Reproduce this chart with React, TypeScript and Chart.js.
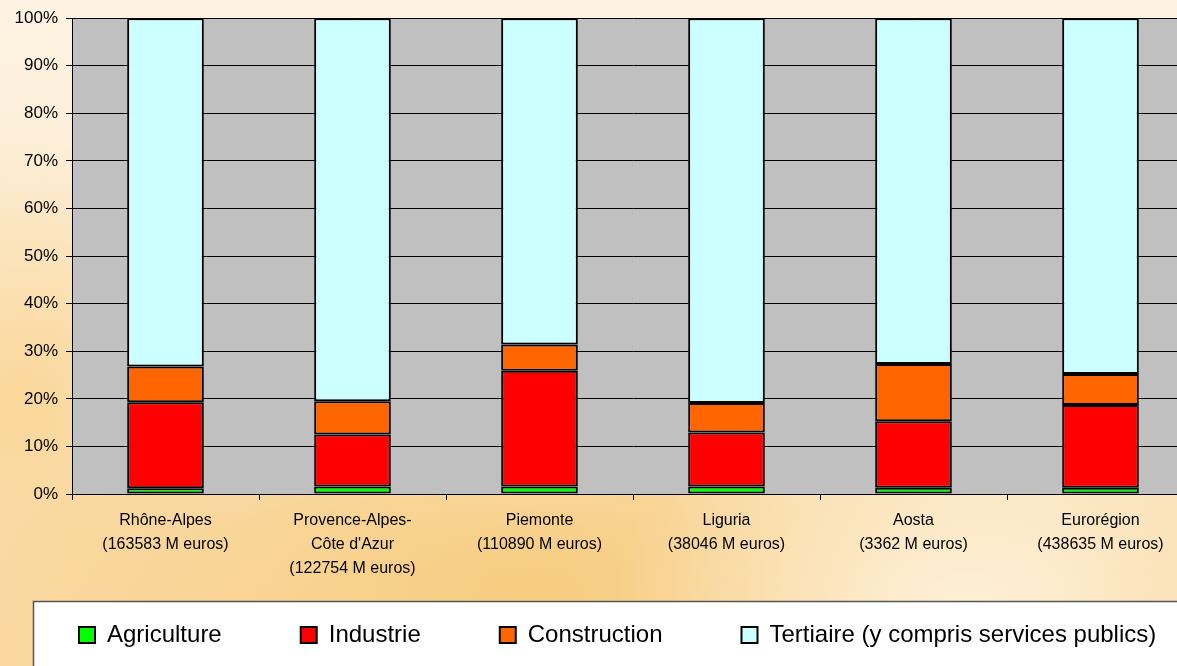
import React, { useEffect, useRef } from "react";
import { Chart, registerables } from "chart.js";

Chart.register(...registerables);

const categories: string[][] = [
  ["Rhône-Alpes", "(163583 M euros)"],
  ["Provence-Alpes-", "Côte d'Azur", "(122754 M euros)"],
  ["Piemonte", "(110890 M euros)"],
  ["Liguria", "(38046 M euros)"],
  ["Aosta", "(3362 M euros)"],
  ["Eurorégion", "(438635 M euros)"],
];

const seriesNames = [
  "Agriculture",
  "Industrie",
  "Construction",
  "Tertiaire (y compris services publics)",
];

const agriculture = [1.2, 1.6, 1.6, 1.6, 1.3, 1.3];
const industrie = [18.1, 10.9, 24.3, 11.3, 14.0, 17.4];
const construction = [7.5, 7.0, 5.5, 6.2, 12.0, 6.5];
const tertiaire = [73.2, 80.5, 68.6, 80.9, 72.7, 74.8];

const seriesColors = ["#00ff00", "#ff0000", "#ff6600", "#ccffff"];

const yMin = 0;
const yMax = 100;
const yStep = 10;

const CANVAS_W = 1250;
const CANVAS_H = 680;
const PLOT_LEFT = 72;
const PLOT_RIGHT = 1194;

const FONT = "'Liberation Sans', Arial, sans-serif";

const bgPlugin = {
  id: "bgPlugin",
  afterLayout(chart: any) {
    // let the multi-line category labels extend below the axis box
    const x = chart.scales.x;
    if (x) x.bottom = 600;
  },
  beforeDraw(chart: any) {
    const { ctx, chartArea } = chart;
    ctx.save();
    ctx.fillStyle = "#c0c0c0";
    ctx.fillRect(
      chartArea.left,
      chartArea.top,
      chartArea.right - chartArea.left,
      chartArea.bottom - chartArea.top
    );
    ctx.fillStyle = "#ffffff";
    ctx.fillRect(33, 601, chart.width - 33, chart.height - 601);
    ctx.strokeStyle = "#555555";
    ctx.lineWidth = 1.5;
    ctx.strokeRect(33.5, 601.5, chart.width, chart.height);
    ctx.restore();
  },
};

export default function App() {
  const ref = useRef<HTMLCanvasElement | null>(null);

  useEffect(() => {
    if (!ref.current) return;
    Chart.defaults.font.family = FONT;
    const data = [agriculture, industrie, construction, tertiaire];
    const chart = new Chart(ref.current, {
      type: "bar",
      data: {
        labels: categories,
        datasets: data.map((d, i) => ({
          label: seriesNames[i],
          data: d,
          backgroundColor: seriesColors[i],
          borderColor: "#000000",
          borderWidth: 2,
          borderSkipped: false,
          barPercentage: 0.41,
          categoryPercentage: 1,
        })),
      },
      options: {
        responsive: false,
        animation: false,
        devicePixelRatio: 1,
        layout: { padding: { left: 0, right: 0, top: 16, bottom: 23 } },
        plugins: {
          tooltip: { enabled: false },
          legend: {
            position: "bottom",
            align: "start",
            labels: {
              boxWidth: 16,
              boxHeight: 16,
              padding: 79,
              color: "#000000",
              font: { size: 24, family: FONT },
            },
          },
        },
        scales: {
          x: {
            stacked: true,
            grid: {
              offset: true,
              drawOnChartArea: false,
              drawTicks: true,
              tickLength: 6,
              color: "#000000",
            },
            border: { color: "#000000", width: 1 },
            ticks: {
              color: "#000000",
              font: { size: 16, family: FONT, lineHeight: 1.5 },
              padding: 9,
              maxRotation: 0,
              autoSkip: false,
            },
            afterFit: (s: any) => {
              s.height = 50;
            },
          },
          y: {
            stacked: true,
            min: yMin,
            max: yMax,
            ticks: {
              stepSize: yStep,
              color: "#000000",
              font: { size: 17, family: FONT },
              padding: 8,
              callback: (v: any) => v + "%",
            },
            grid: { color: "#000000", lineWidth: 1, tickLength: 6 },
            border: { color: "#000000", width: 1 },
            afterFit: (s: any) => {
              s.width = PLOT_LEFT;
            },
          },
          y2: {
            type: "linear",
            position: "right",
            display: true,
            grid: { display: false, drawTicks: false },
            ticks: { display: false },
            border: { display: false },
            afterFit: (s: any) => {
              s.width = CANVAS_W - PLOT_RIGHT;
            },
          },
        },
      },
      plugins: [bgPlugin],
    } as any);
    return () => chart.destroy();
  }, []);

  return (
    <div
      style={{
        position: "fixed",
        left: 0,
        top: 0,
        width: 1177,
        height: 666,
        overflow: "hidden",
        background:
          "radial-gradient(ellipse 30% 40% at 82% 92%, rgba(254,242,220,0.95) 0%, rgba(254,242,220,0) 100%)," +
          "radial-gradient(ellipse 45% 35% at 45% 88%, rgba(247,203,125,0.9) 0%, rgba(247,203,125,0) 100%)," +
          "radial-gradient(ellipse 20% 40% at 2% 60%, rgba(250,214,150,0.9) 0%, rgba(250,214,150,0) 100%)," +
          "linear-gradient(180deg, #fdf3e2 0%, #fcebd0 45%, #f9dcaa 80%, #f9d79e 100%)",
      }}
    >
      <canvas
        ref={ref}
        width={CANVAS_W}
        height={CANVAS_H}
        style={{ width: CANVAS_W, height: CANVAS_H, display: "block" }}
      />
    </div>
  );
}
